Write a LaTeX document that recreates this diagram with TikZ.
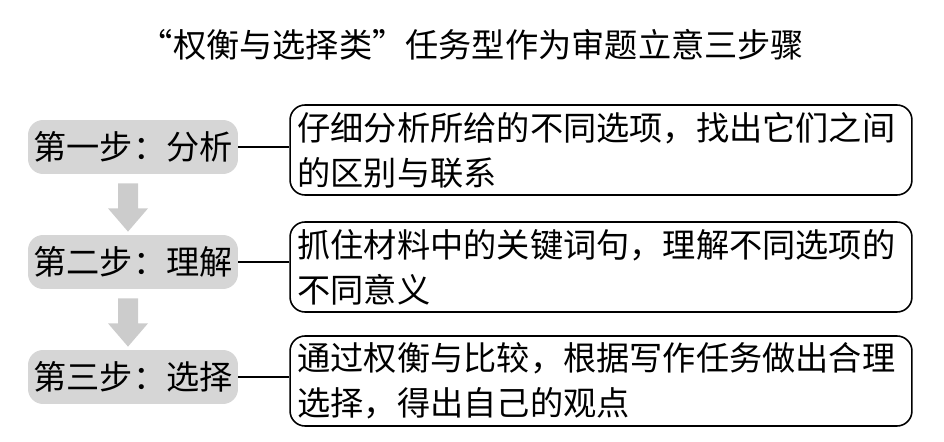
\documentclass[tikz,border=0pt]{standalone}
\usepackage{fontspec}
\newfontfamily\cjk{Noto Sans CJK SC}
\usetikzlibrary{calc}
\colorlet{stepgray}{black!16}
\colorlet{arrowgray}{black!20}
\def\txtsize{\fontsize{18.9}{25.6}\selectfont}

\begin{document}
\begin{tikzpicture}[x=0.02cm, y=-0.02cm,
    every node/.style={font=\cjk\txtsize},
    stepbox/.style={fill=stepgray, rounded corners=0.3cm, minimum width=4.2cm, minimum height=1.08cm, inner sep=0pt},
    notebox/.style={draw, line width=0.9pt, rounded corners=0.3cm, minimum width=12.44cm, minimum height=1.8cm,
      text width=12.14cm, inner xsep=0.15cm, inner ysep=0pt, align=left}]
  \useasboundingbox (0,0) rectangle (944,442);

  \node (title) at (472,45) {“权衡与选择类”任务型作为审题立意三步骤};

  \node[stepbox] (s1) at (133,147) {第一步：分析};
  \node[stepbox] (s2) at (133,262) {第二步：理解};
  \node[stepbox] (s3) at (133,377) {第三步：选择};

  \node[notebox] (n1) at (601,150) {仔细分析所给的不同选项，找出它们之间\\的区别与联系};
  \node[notebox] (n2) at (601,267) {抓住材料中的关键词句，理解不同选项的\\不同意义};
  \node[notebox] (n3) at (601,381) {通过权衡与比较，根据写作任务做出合理\\选择，得出自己的观点};

  % connectors
  \foreach \i in {1,2,3}
    \draw[line width=0.9pt] (s\i.east) -- (s\i.east -| n\i.west);

  % block arrows between the steps
  \foreach \a/\b in {s1/s2, s2/s3} {
    \fill[arrowgray] ($(\a.south)+(-15,9)$) -- ($(\a.south)+(5,9)$) -- ($(\a.south)+(5,34)$)
      -- ($(\a.south)+(15,34)$) -- ($(\b.north)+(-5,-3)$) -- ($(\a.south)+(-25,34)$)
      -- ($(\a.south)+(-15,34)$) -- cycle;
  }
\end{tikzpicture}
\end{document}
